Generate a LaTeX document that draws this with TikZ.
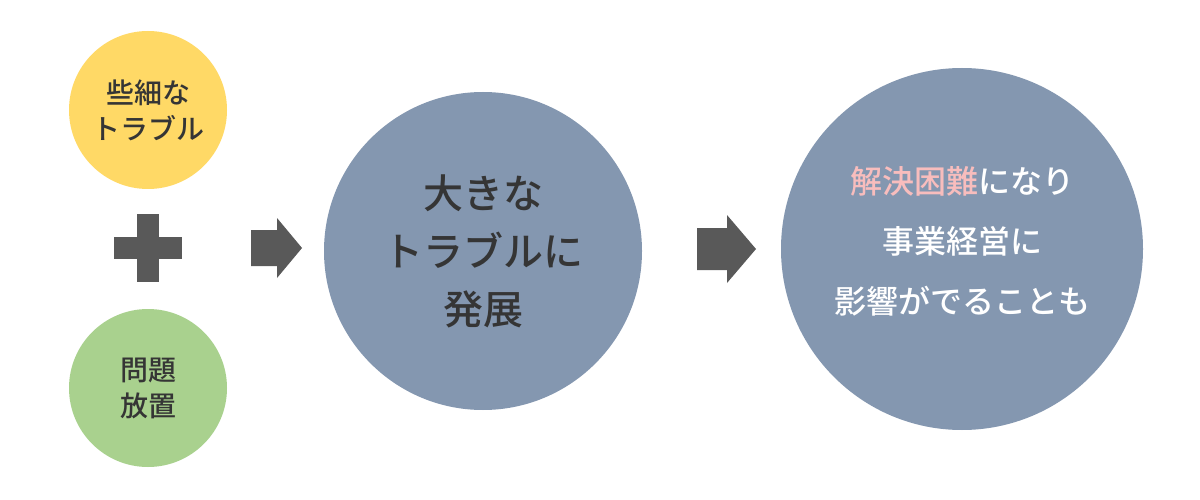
\documentclass[tikz,border=0pt]{standalone}
\usepackage{fontspec}
\newfontfamily\jp{Noto Sans CJK JP Medium}
\definecolor{cyellow}{HTML}{FFD966}
\definecolor{cgreen}{HTML}{A9D18E}
\definecolor{cblue}{HTML}{8497B0}
\definecolor{cdark}{HTML}{595959}
\definecolor{ctext}{HTML}{353535}
\definecolor{cpink}{HTML}{F8BDBD}
\tikzset{
  small/.style={circle,inner sep=0pt,minimum size=158pt,align=center,font=\jp\fontsize{28}{36}\selectfont,text=ctext},
  big/.style={circle,inner sep=0pt,align=center,text=ctext},
  blockarrow/.style={fill=cdark},
}
\begin{document}
\begin{tikzpicture}[x=1pt,y=-1pt]
\useasboundingbox[fill=white] (0,0) rectangle (1200,500);
\node[small,fill=cyellow] (trouble) at (148,110) {些細な\\トラブル};
\node[small,fill=cgreen] (neglect) at (148,388) {問題\\放置};
% plus
\fill[cdark] (137,214) rectangle (159,282);
\fill[cdark] (114,237) rectangle (182,259);
% arrow 1
\fill[blockarrow] (251,230) -- (277,230) -- (277,218) -- (302,248) -- (277,278) -- (277,266) -- (251,266) -- cycle;
\node[big,fill=cblue,minimum size=318pt,font=\jp\fontsize{40}{58}\selectfont] (grow) at (483,251) {大きな\\トラブルに\\発展};
% arrow 2
\fill[blockarrow] (697,228) -- (727,228) -- (727,215) -- (756,249) -- (727,283) -- (727,270) -- (697,270) -- cycle;
\node[big,fill=cblue,minimum size=362pt,text=white,font=\jp\fontsize{32}{60}\selectfont] (impact) at (962,249) {\textcolor{cpink}{解決困難}になり\\事業経営に\\影響がでることも\rule[-18pt]{0pt}{1pt}};
\end{tikzpicture}
\end{document}
